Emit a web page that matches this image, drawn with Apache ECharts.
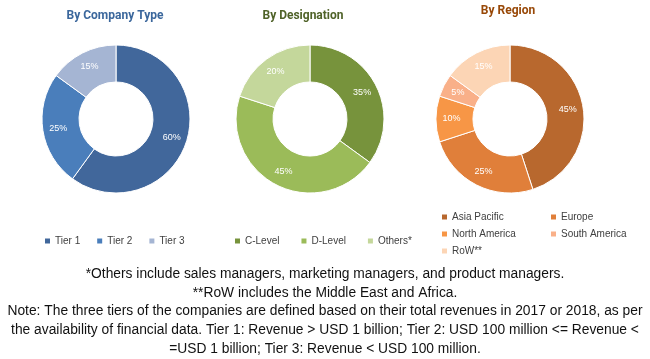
<!DOCTYPE html>
<html><head><meta charset="utf-8">
<script src="https://cdn.jsdelivr.net/npm/echarts@6/dist/echarts.min.js"></script>
<style>html,body{margin:0;padding:0;background:#fff}#c{width:650px;height:359px}</style>
</head><body><div id="c"></div>
<script>
const companyTypes = ['Tier 1', 'Tier 2', 'Tier 3'];
const companyValues = [60, 25, 15];
const designations = ['C-Level', 'D-Level', 'Others*'];
const designationValues = [35, 45, 20];
const regions = ['Asia Pacific', 'Europe', 'North America', 'South America', 'RoW**'];
const regionValues = [45, 25, 10, 5, 15];
const titles = ['By Company Type', 'By Designation', 'By Region'];
const notes = [
  '*Others include sales managers, marketing managers, and product managers.',
  '**RoW includes the Middle East and Africa.',
  'Note: The three tiers of the companies are defined based on their total revenues in 2017 or 2018, as per',
  'the availability of financial data. Tier 1: Revenue > USD 1 billion; Tier 2: USD 100 million <= Revenue <',
  '=USD 1 billion; Tier 3: Revenue < USD 100 million.'
];

const blueColors = ['#41679b', '#4a7ebb', '#a5b5d3'];
const greenColors = ['#77933c', '#9bbb59', '#c4d79b'];
const orangeColors = ['#b8682e', '#e07f3a', '#f79646', '#f9b089', '#fcd5b5'];

const font = '"Liberation Sans", sans-serif';
const titleFont = 'Roboto, "Liberation Sans", sans-serif';
function mk(names, vals, colors) {
  return names.map((n, i) => ({ name: n, value: vals[i], itemStyle: { color: colors[i] } }));
}
function pie(center, data) {
  return {
    type: 'pie', center: center, radius: [37, 74], startAngle: 90, clockwise: true,
    avoidLabelOverlap: false, silent: true,
    itemStyle: { borderColor: '#fff', borderWidth: 1 },
    label: { show: true, position: 'inside', formatter: '{c}%', color: '#fff', fontSize: 9, fontFamily: font },
    labelLine: { show: false },
    data: data
  };
}
const legendBase = { icon: 'rect', itemWidth: 7, itemHeight: 7, textStyle: { fontSize: 10, color: '#404040', fontFamily: font, padding: [0,0,0,-1] }, selectedMode: false };

const chart = echarts.init(document.getElementById('c'));
chart.setOption({
  animation: false,
  title: [
    { text: titles[0], left: 110, top: 5, textAlign: 'center', textStyle: { fontSize: 12, fontWeight: 'bold', color: '#3b679c', fontFamily: titleFont } },
    { text: titles[1], left: 298, top: 5, textAlign: 'center', textStyle: { fontSize: 12, fontWeight: 'bold', color: '#4f6228', fontFamily: titleFont } },
    { text: titles[2], left: 503, top: 0, textAlign: 'center', textStyle: { fontSize: 12, fontWeight: 'bold', color: '#984807', fontFamily: titleFont } }
  ],
  legend: [
    Object.assign({}, legendBase, { data: companyTypes, left: 38, top: 231, itemGap: 15 }),
    Object.assign({}, legendBase, { data: designations, left: 228, top: 231, itemGap: 20 }),
    Object.assign({}, legendBase, { data: [regions[0], regions[2], regions[4]], orient: 'vertical', left: 435, top: 207, itemGap: 7 }),
    Object.assign({}, legendBase, { data: [regions[1], regions[3]], orient: 'vertical', left: 544, top: 207, itemGap: 7 })
  ],
  graphic: notes.map((t, i) => ({
    type: 'text', left: 'center', top: 267 + i * 18.8,
    style: { text: t, fontSize: 13.8, fill: '#111', fontFamily: font }
  })),
  series: [
    pie([116, 119], mk(companyTypes, companyValues, blueColors)),
    pie([310, 119], mk(designations, designationValues, greenColors)),
    pie([510, 119], mk(regions, regionValues, orangeColors))
  ]
});
</script></body></html>
